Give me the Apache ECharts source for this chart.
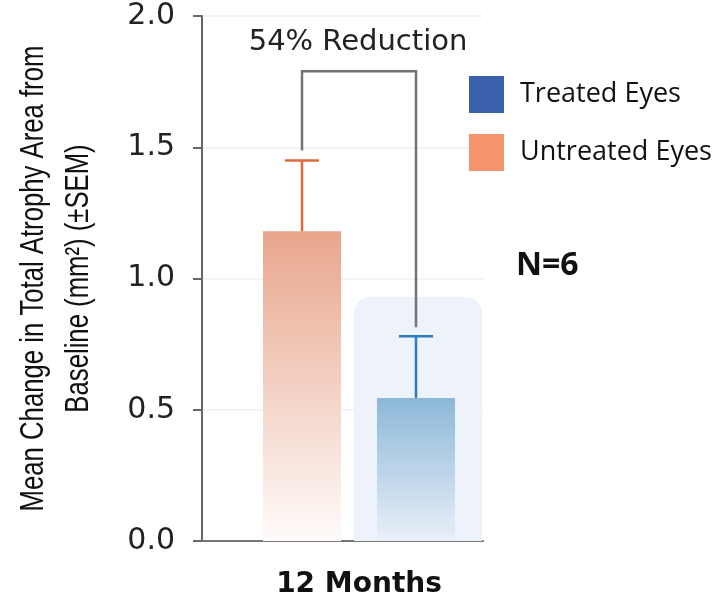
<!DOCTYPE html>
<html>
<head>
<meta charset="utf-8">
<style>html,body{margin:0;padding:0;background:#fff;}#chart{width:718px;height:601px;}</style>
<script src="https://cdn.jsdelivr.net/npm/echarts@6/dist/echarts.min.js"></script>
</head>
<body>
<div id="chart"></div>
<script>
// ---- data ----
const categories = ['12 Months'];
const seriesNames = ['Untreated Eyes', 'Treated Eyes'];
const untreatedMean = [1.18];
const untreatedUpper = [1.45];   // mean + SEM
const treatedMean = [0.545];
const treatedUpper = [0.78];     // mean + SEM
const bracketTop = 1.79;
const treatedPanelTop = 0.93;
const yTicks = [0, 0.5, 1.0, 1.5, 2.0];
const yTitleLines = ['Mean Change in Total Atrophy Area from', 'Baseline (mm\u00b2) (\u00b1SEM)'];
const annotationText = '54% Reduction';
const nText = 'N=6';

// ---- layout constants ----
const GRID_LEFT = 202, GRID_TOP = 16, GRID_H = 525;
const BAR_W = 78, BAR_HALF_SPACING = 57;

const chart = echarts.init(document.getElementById('chart'));

const orangeGrad = new echarts.graphic.LinearGradient(0, 0, 0, 1, [
  {offset: 0, color: '#e8a68c'}, {offset: 1, color: '#fefbfa'}]);
const blueGrad = new echarts.graphic.LinearGradient(0, 0, 0, 1, [
  {offset: 0, color: '#8cb8d8'}, {offset: 1, color: '#e9eff8'}]);

function errorItem(idx, mean, upper, color, sign) {
  return function (params, api) {
    const b = api.coord([idx, mean[idx]]);
    const t = api.coord([idx, upper[idx]]);
    const x = b[0] + sign * BAR_HALF_SPACING;
    return {
      type: 'group',
      children: [
        {type: 'line', shape: {x1: x, y1: b[1], x2: x, y2: t[1]}, style: {stroke: color, lineWidth: 2.5}},
        {type: 'line', shape: {x1: x - 17, y1: t[1], x2: x + 17, y2: t[1]}, style: {stroke: color, lineWidth: 2.5}}
      ]
    };
  };
}

const option = {
  animation: false,
  backgroundColor: '#fff',
  grid: [
    {left: GRID_LEFT, top: GRID_TOP, width: 281, height: GRID_H, outerBoundsMode: 'none', containLabel: false},
    {left: GRID_LEFT, top: GRID_TOP, width: 314, height: GRID_H, outerBoundsMode: 'none', containLabel: false}
  ],
  xAxis: [
    {gridIndex: 0, type: 'category', data: categories,
     axisLine: {lineStyle: {color: '#777', width: 2}}, axisTick: {show: false}, axisLabel: {show: false}},
    {gridIndex: 1, type: 'category', data: categories,
     axisLine: {show: false}, axisTick: {show: false},
     axisLabel: {fontFamily: 'DejaVu Sans', fontWeight: 'bold', fontSize: 28, color: '#111', margin: 30}}
  ],
  yAxis: [
    {gridIndex: 0, type: 'value', min: yTicks[0], max: yTicks[yTicks.length - 1], interval: 0.5,
     axisLine: {show: true, lineStyle: {color: '#666', width: 2}},
     axisTick: {show: true, length: 9, lineStyle: {color: '#666', width: 2}},
     axisLabel: {fontFamily: 'DejaVu Sans', fontSize: 30, color: '#222', margin: 27,
                 formatter: v => v.toFixed(1)},
     splitLine: {lineStyle: {color: '#efefef', width: 1.5}}},
    {gridIndex: 1, type: 'value', min: yTicks[0], max: yTicks[yTicks.length - 1], interval: 0.5, show: false,
     splitLine: {show: false}}
  ],
  legend: {
    orient: 'vertical', left: 464, top: 71, itemWidth: 35, itemHeight: 37, itemGap: 21,
    icon: 'rect', selectedMode: false,
    textStyle: {fontFamily: '"Open Sans", sans-serif', fontSize: 27, color: '#111', padding: [0, 0, 0, 11]},
    data: [
      {name: seriesNames[1], itemStyle: {color: '#3b60ac'}},
      {name: seriesNames[0], itemStyle: {color: '#f4956e'}}
    ]
  },
  graphic: [
    {type: 'text', left: 516, top: 250, style: {text: nText, fontFamily: '"Open Sans", sans-serif', fontWeight: 'bold', fontSize: 32, fill: '#111'}},
    {type: 'text', x: 358, y: 42, style: {text: annotationText, fontFamily: 'DejaVu Sans', fontSize: 29, fill: '#222', align: 'center', verticalAlign: 'middle'}},
    {type: 'text', x: 56, y: GRID_TOP + GRID_H / 2, rotation: Math.PI / 2, scaleX: 0.756,
     style: {text: yTitleLines.join('\n'), fontFamily: '"Liberation Sans", Arial, sans-serif', fontSize: 34, lineHeight: 45,
             fill: '#111', align: 'center', verticalAlign: 'middle'}}
  ],
  series: [
    {
      type: 'custom', name: 'panel', xAxisIndex: 1, yAxisIndex: 1, z: 1, silent: true,
      data: [0],
      renderItem: function (params, api) {
        const b = api.coord([0, 0]);
        const t = api.coord([0, treatedPanelTop]);
        const cx = b[0] + BAR_HALF_SPACING + 2;
        return {type: 'rect', shape: {x: cx - 64, y: t[1], width: 128, height: b[1] - t[1], r: [16, 16, 0, 0]},
                style: {fill: '#eef2fa'}};
      }
    },
    {
      type: 'bar', name: seriesNames[0], xAxisIndex: 1, yAxisIndex: 1, z: 2,
      data: untreatedMean, barWidth: BAR_W, barGap: (2 * BAR_HALF_SPACING - BAR_W) / BAR_W * 100 + '%',
      itemStyle: {color: orangeGrad}
    },
    {
      type: 'bar', name: seriesNames[1], xAxisIndex: 1, yAxisIndex: 1, z: 2,
      data: treatedMean, barWidth: BAR_W,
      itemStyle: {color: blueGrad}
    },
    {
      type: 'custom', name: 'errU', xAxisIndex: 1, yAxisIndex: 1, z: 4, silent: true,
      data: [0], renderItem: errorItem(0, untreatedMean, untreatedUpper, '#e2693e', -1)
    },
    {
      type: 'custom', name: 'errT', xAxisIndex: 1, yAxisIndex: 1, z: 4, silent: true,
      data: [0], renderItem: errorItem(0, treatedMean, treatedUpper, '#2b7bc0', 1)
    },
    {
      type: 'custom', name: 'bracket', xAxisIndex: 1, yAxisIndex: 1, z: 5, silent: true,
      data: [0],
      renderItem: function (params, api) {
        const l = api.coord([0, untreatedUpper[0]]);
        const r = api.coord([0, treatedUpper[0]]);
        const t = api.coord([0, bracketTop]);
        const xl = l[0] - BAR_HALF_SPACING, xr = l[0] + BAR_HALF_SPACING;
        return {type: 'polyline', shape: {points: [[xl, l[1] - 10], [xl, t[1]], [xr, t[1]], [xr, r[1] - 9]]},
                style: {stroke: '#737373', lineWidth: 2.5, fill: null}};
      }
    }
  ]
};
chart.setOption(option);
</script>
</body>
</html>
